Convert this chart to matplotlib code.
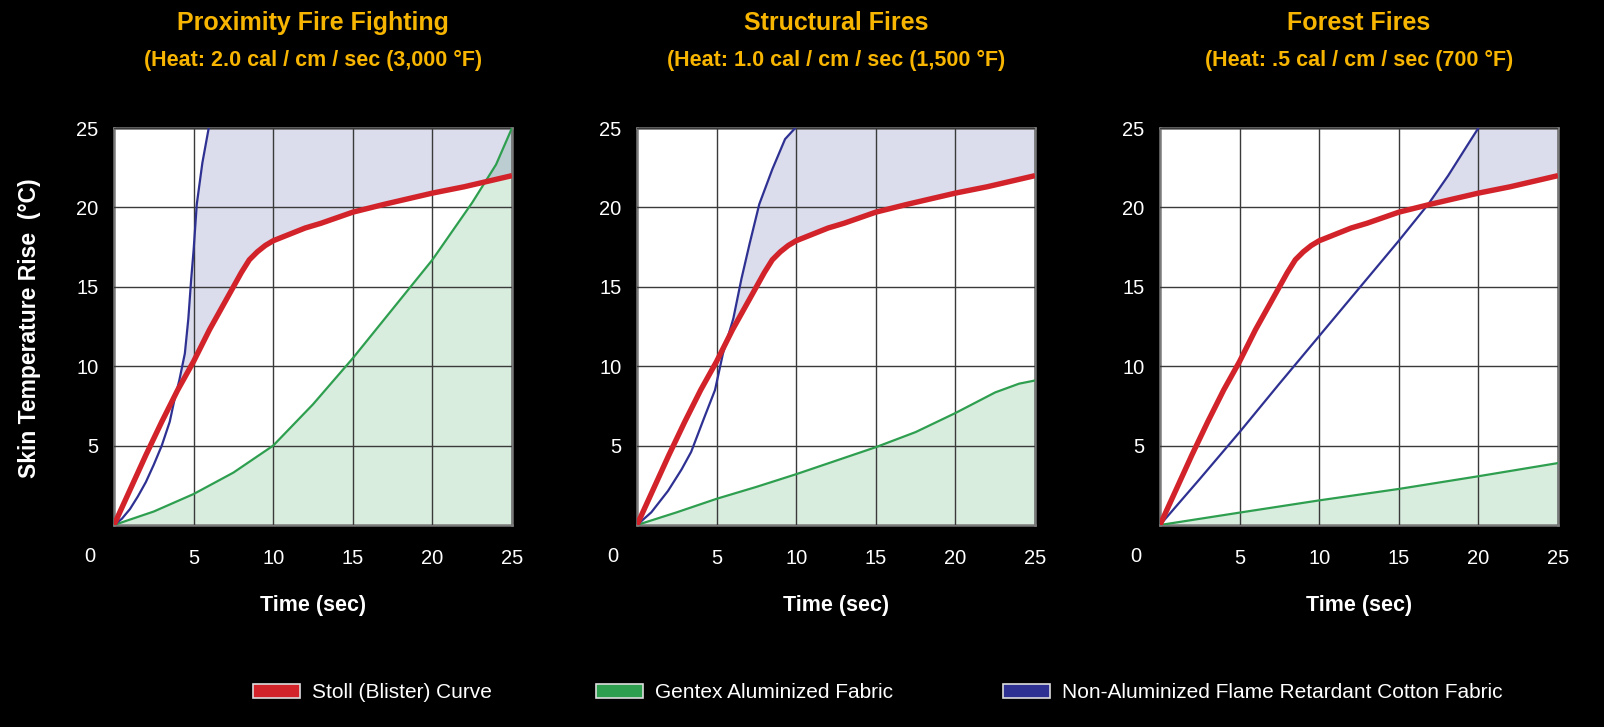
import numpy as np
import matplotlib
matplotlib.use("Agg")
import matplotlib.pyplot as plt
from matplotlib.patches import Patch

plt.rcParams['font.family'] = ['Liberation Sans', 'DejaVu Sans']

# panel titles
titles = ['Proximity Fire Fighting', 'Structural Fires', 'Forest Fires']
subtitles = ['(Heat: 2.0 cal / cm / sec (3,000 \u00b0F)',
             '(Heat: 1.0 cal / cm / sec (1,500 \u00b0F)',
             '(Heat: .5 cal / cm / sec (700 \u00b0F)']

# Stoll (blister) curve - same in every panel
stoll_t = [0, 1, 2, 3, 4, 5, 6, 7, 7.5, 8, 8.5, 9, 9.5, 10, 11, 12, 13, 15, 17, 20, 22, 25]
stoll_y = [0, 2.2, 4.4, 6.5, 8.5, 10.3, 12.3, 14.1, 15.0, 15.9, 16.7, 17.2, 17.6, 17.9,
           18.3, 18.7, 19.0, 19.7, 20.2, 20.9, 21.3, 22.0]

# Gentex aluminized fabric
gentex_t = [
    [0, 2.5, 5, 7.5, 10, 12.5, 15, 17.5, 20, 22.5, 24, 25],
    [0, 2.5, 5, 7.5, 10, 12.5, 15, 17.5, 20, 22.5, 24, 25],
    [0, 5, 10, 15, 20, 25],
]
gentex_y = [
    [0, 0.85, 1.95, 3.3, 5.0, 7.6, 10.5, 13.6, 16.7, 20.3, 22.7, 25.0],
    [0, 0.8, 1.65, 2.4, 3.2, 4.05, 4.9, 5.85, 7.05, 8.35, 8.9, 9.1],
    [0, 0.78, 1.55, 2.27, 3.07, 3.9],
]

# Non-aluminized flame retardant cotton fabric
cotton_t = [
    [0, 0.5, 1, 1.5, 2, 2.5, 3, 3.5, 3.8, 4.1, 4.45, 4.67, 4.85, 5.0, 5.2, 5.55, 5.95],
    [0, 0.9, 1.95, 2.8, 3.4, 4.2, 4.9, 5.4, 6.05, 6.56, 7.07, 7.68, 8.5, 9.3, 9.94],
    [0, 2.5, 5, 7.5, 10, 12.5, 15, 16.85, 18.1, 19.3, 20],
]
cotton_y = [
    [0, 0.4, 1.0, 1.8, 2.7, 3.8, 5.0, 6.5, 7.9, 9.1, 10.8, 13.0, 15.5, 17.3, 20.2, 22.8, 25.0],
    [0, 0.8, 2.15, 3.5, 4.6, 6.7, 8.5, 10.8, 13.0, 15.5, 17.7, 20.2, 22.4, 24.3, 25.0],
    [0, 2.9, 5.85, 8.9, 11.9, 14.9, 17.9, 20.2, 22.0, 23.9, 25.0],
]

ticks = [5, 10, 15, 20, 25]

red = '#d2232a'
green = '#2e9e4f'
navy = '#2e3192'
gold = '#f7b500'

fig = plt.figure(figsize=(16.04, 7.27), dpi=100, facecolor='black')

lefts = [114, 637, 1160]
for i in range(3):
    ax = fig.add_axes([lefts[i] / 1604, 1 - 525 / 727, 398 / 1604, 397 / 727])
    ax.set_facecolor('white')

    # green area under the gentex curve
    ax.fill_between(gentex_t[i], 0, gentex_y[i], color=green, alpha=0.18, lw=0)

    # lavender area where the cotton fabric is above the blister curve
    xx = np.linspace(0, 25, 600)
    st = np.interp(xx, stoll_t, stoll_y)
    ct = np.interp(xx, cotton_t[i], cotton_y[i], right=25)
    ax.fill_between(xx, st, ct, where=ct > st, interpolate=True,
                    color=navy, alpha=0.17, lw=0)

    ax.plot(gentex_t[i], gentex_y[i], color=green, lw=1.6, zorder=3)
    ax.plot(cotton_t[i], cotton_y[i], color=navy, lw=1.6, zorder=3)
    ax.plot(stoll_t, stoll_y, color=red, lw=3.9, zorder=4, solid_capstyle='butt')

    ax.set_xlim(0, 25)
    ax.set_ylim(0, 25)
    ax.set_xticks(ticks)
    ax.set_yticks(ticks)
    ax.grid(True, color='#3a3a3a', lw=1.0)
    ax.set_axisbelow(False)
    ax.tick_params(length=0, colors='white', labelsize=14.5)
    ax.tick_params(axis='x', pad=17)
    ax.tick_params(axis='y', pad=11)
    for s in ax.spines.values():
        s.set_color('#7a7a7a')
        s.set_linewidth(1.8)

    # shared origin label
    ax.annotate('0', xy=(0, 0), xytext=(-24, -32), textcoords='offset pixels',
                color='white', fontsize=14.5, ha='center', va='center')

    ax.text(0.5, -0.204, 'Time (sec)', transform=ax.transAxes, ha='center',
            va='center', color='white', fontsize=15.5, fontweight='bold')
    ax.text(0.5, 1.265, titles[i], transform=ax.transAxes, ha='center',
            va='center', color=gold, fontsize=18, fontweight='bold')
    ax.text(0.5, 1.17, subtitles[i], transform=ax.transAxes, ha='center',
            va='center', color=gold, fontsize=15.5, fontweight='bold')

fig.text(30 / 1604, 1 - 328 / 727, 'Skin Temperature Rise  (\u00b0C)', rotation=90,
         ha='center', va='center', color='white', fontsize=16.5, fontweight='bold')

# legend, one entry at a time
names = ['Stoll (Blister) Curve', 'Gentex Aluminized Fabric',
         'Non-Aluminized Flame Retardant Cotton Fabric']
cols = [red, green, navy]
starts = [253, 596, 1003]
for name, c, x0 in zip(names, cols, starts):
    fig.legend(handles=[Patch(facecolor=c, edgecolor='#dddddd', lw=1.2, label=name)],
               loc='center left', bbox_to_anchor=(x0 / 1604, 1 - 693 / 727),
               frameon=False, fontsize=15, labelcolor='white',
               handlelength=2.26, handleheight=0.67, handletextpad=0.58,
               borderpad=0, borderaxespad=0)

fig.savefig('out.png', dpi=100, facecolor='black')
